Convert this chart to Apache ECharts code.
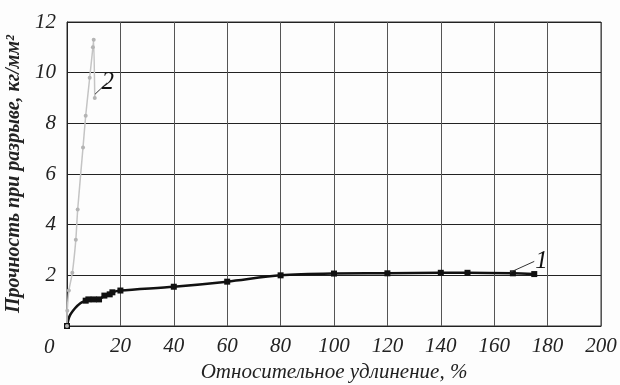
<!DOCTYPE html>
<html>
<head>
<meta charset="utf-8">
<script src="https://cdn.jsdelivr.net/npm/echarts@6/dist/echarts.min.js"></script>
<style>
  html, body { margin: 0; padding: 0; background: #fdfdfd; }
  #main { width: 620px; height: 385px; }
</style>
</head>
<body>
<div id="main"></div>
<script>
  // кривая 1 (чёрная)
  let curve1X = [0, 1, 3, 5, 7, 8, 10, 12, 14, 16, 17, 20, 40, 60, 80, 100, 120, 140, 150, 167, 175];
  let curve1Y = [0, 0.4, 0.7, 0.9, 1.0, 1.05, 1.05, 1.05, 1.2, 1.25, 1.33, 1.4, 1.55, 1.75, 2.0, 2.07, 2.08, 2.1, 2.1, 2.08, 2.05];
  let curve1Marks = [1, 0, 0, 0, 1, 1, 1, 1, 1, 1, 1, 1, 1, 1, 1, 1, 1, 1, 1, 1, 1];
  // кривая 2 (серая)
  let curve2X = [0, 0.1, 0.7, 2, 3.3, 4, 6, 7, 8.5, 9.7, 10, 10.4];
  let curve2Y = [0, 0.6, 1.4, 2.1, 3.4, 4.6, 7.05, 8.3, 9.8, 11.0, 11.3, 9.0];
  let xTicks = [0, 200, 20];
  let yTicks = [0, 12, 2];

  let chart = echarts.init(document.getElementById('main'));

  let serif = '"Liberation Serif", "DejaVu Serif", serif';

  let data1 = curve1X.map((x, i) => {
    let p = { value: [x, curve1Y[i]] };
    if (!curve1Marks[i]) p.symbol = 'none';
    return p;
  });
  let data2 = curve2X.map((x, i) => [x, curve2Y[i]]);

  let option = {
    backgroundColor: '#fdfdfd',
    animation: false,
    grid: {
      left: 67, right: 19, top: 22, bottom: 59,
      outerBoundsMode: 'none', containLabel: false,
      show: true, borderColor: '#333', borderWidth: 1
    },
    xAxis: {
      type: 'value',
      min: xTicks[0], max: xTicks[1], interval: xTicks[2],
      name: 'Относительное удлинение, %',
      nameLocation: 'middle', nameGap: 36,
      nameTextStyle: { fontFamily: serif, fontStyle: 'italic', fontSize: 21, color: '#222' },
      axisLine: { lineStyle: { color: '#222' } },
      axisTick: { show: false },
      axisLabel: {
        margin: 10, fontFamily: serif, fontStyle: 'italic', fontSize: 21, color: '#222',
        formatter: v => v === 0 ? '' : v
      },
      splitLine: { lineStyle: { color: '#555', width: 1 } }
    },
    yAxis: {
      type: 'value',
      min: yTicks[0], max: yTicks[1], interval: yTicks[2],
      name: 'Прочность при разрыве, кг/мм²',
      nameLocation: 'middle', nameGap: 38,
      nameTextStyle: { fontFamily: serif, fontStyle: 'italic', fontWeight: 'bold', fontSize: 20, color: '#222' },
      axisLine: { show: true, lineStyle: { color: '#222' } },
      axisTick: { show: false },
      axisLabel: {
        margin: 11, fontFamily: serif, fontStyle: 'italic', fontSize: 21, color: '#222',
        formatter: v => v === 0 ? '' : v
      },
      splitLine: { lineStyle: { color: '#222', width: 1.2 } }
    },
    graphic: [{
      type: 'text', left: 44, top: 337,
      style: { text: '0', fontFamily: serif, fontStyle: 'italic', fontSize: 21, fill: '#222' }
    }],
    series: [
      {
        name: '1', type: 'line', data: data1, smooth: 0.3,
        symbol: 'rect', symbolSize: 6,
        lineStyle: { color: '#111', width: 2.5 },
        itemStyle: { color: '#111' },
        markLine: {
          silent: true, symbol: 'none',
          lineStyle: { color: '#333', width: 1, type: 'solid' },
          label: { position: 'end', formatter: '1', fontFamily: serif, fontStyle: 'italic', fontSize: 25, color: '#111', distance: 1 },
          data: [[{ coord: [166, 2.12] }, { coord: [175, 2.55] }]]
        }
      },
      {
        name: '2', type: 'line', data: data2, smooth: 0.2,
        symbol: 'circle', symbolSize: 4,
        lineStyle: { color: '#c4c4c4', width: 1.5 },
        itemStyle: { color: '#b4b4b4' },
        markLine: {
          silent: true, symbol: 'none',
          lineStyle: { color: '#333', width: 1, type: 'solid' },
          label: { position: 'end', formatter: '2', fontFamily: serif, fontStyle: 'italic', fontSize: 25, color: '#111', distance: 1 },
          data: [[{ coord: [10.5, 9.15] }, { coord: [15, 9.6] }]]
        }
      }
    ]
  };
  chart.setOption(option);
</script>
</body>
</html>
